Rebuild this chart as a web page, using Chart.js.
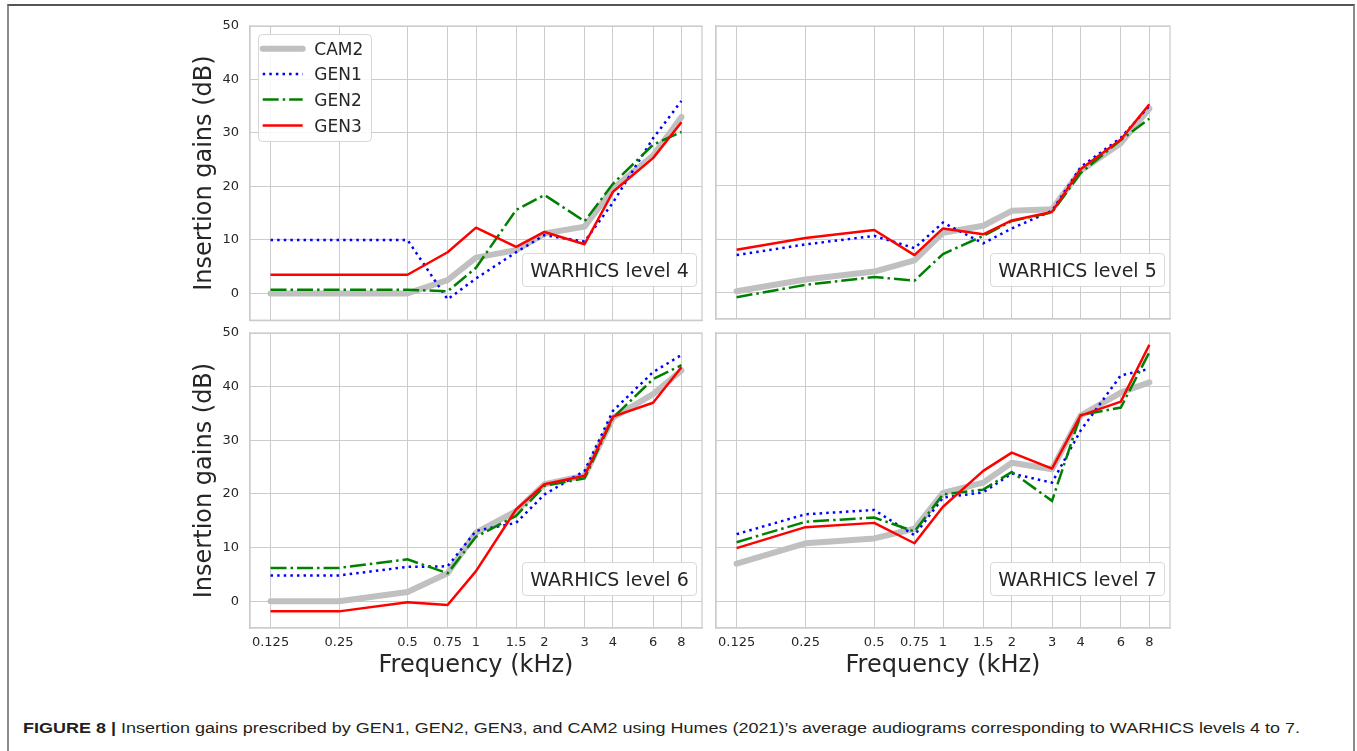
<!DOCTYPE html>
<html>
<head>
<meta charset="utf-8">
<script src="https://cdn.jsdelivr.net/npm/chart.js@4.4.1/dist/chart.umd.min.js"></script>
<style>
html, body { margin: 0; padding: 0; background: #fff; }
body { width: 1357px; height: 751px; position: relative; overflow: hidden; font-family: 'DejaVu Sans', sans-serif; }
.frame { position: absolute; left: 7px; top: 4px; width: 1344px; height: 800px; border-top: 2px solid #555; border-left: 2px solid #8c8c8c; border-right: 2px solid #8c8c8c; }
.panel { position: absolute; }
.tag { position: absolute; box-sizing: border-box; border: 1px solid #d9d9d9; border-radius: 4px; background: rgba(255,255,255,0.85); font-size: 19px; color: #262626; display: flex; align-items: center; justify-content: center; white-space: nowrap; }
.legend { position: absolute; left: 258px; top: 34px; }
.caption { position: absolute; left: 23px; top: 719px; font-family: 'Liberation Sans', Arial, sans-serif; font-size: 15.5px; color: #231f20; white-space: nowrap; transform-origin: left center; }
</style>
</head>
<body>
<div class="frame"></div>
<div class="caption" id="caption"><b>FIGURE 8 |</b> Insertion gains prescribed by GEN1, GEN2, GEN3, and CAM2 using Humes (2021)’s average audiograms corresponding to WARHICS levels 4 to 7.</div>
<script>
// frequencies (kHz) on the log x axis
const freqs = [0.125, 0.25, 0.5, 0.75, 1, 1.5, 2, 3, 4, 6, 8];
const freqLabels = ['0.125', '0.25', '0.5', '0.75', '1', '1.5', '2', '3', '4', '6', '8'];
const yTicks = [0, 10, 20, 30, 40, 50];
const seriesNames = ['CAM2', 'GEN1', 'GEN2', 'GEN3'];
const levelNames = ['WARHICS level 4', 'WARHICS level 5', 'WARHICS level 6', 'WARHICS level 7'];

// insertion gains (dB)
const cam2L4 = [0, 0, 0, 2.5, 6.7, 8.1, 11.2, 12.5, 19.6, 25.8, 33];
const gen1L4 = [10, 10, 10, -1.1, 2.8, 7.7, 10.9, 9.7, 17, 29, 36];
const gen2L4 = [0.7, 0.7, 0.7, 0.4, 4.8, 15.6, 18.4, 13.5, 20.5, 27.8, 30.2];
const gen3L4 = [3.5, 3.5, 3.5, 7.7, 12.3, 8.7, 11.5, 9.2, 19, 25.3, 32];

const cam2L5 = [0.2, 2.4, 3.9, 6, 11.2, 12.5, 15.3, 15.6, 22.8, 28, 34.5];
const gen1L5 = [7, 9, 10.6, 8.3, 13.1, 9.2, 12, 15.3, 23.5, 29, 35];
const gen2L5 = [-0.9, 1.4, 2.9, 2.2, 7.2, 10.6, 13.4, 15, 22.4, 28.6, 32.6];
const gen3L5 = [8, 10.2, 11.7, 7, 12, 10.9, 13.5, 15.1, 23.1, 28.7, 35.3];

const cam2L6 = [0, 0, 1.7, 5.2, 12.8, 16.8, 21.8, 23.4, 34.2, 38.6, 43];
const gen1L6 = [4.8, 4.8, 6.4, 6.5, 13.1, 14.6, 19.9, 24.3, 35.5, 42.7, 45.9];
const gen2L6 = [6.2, 6.2, 7.8, 5.2, 12, 15.9, 21.5, 22.9, 34.2, 41.4, 44];
const gen3L6 = [-1.9, -1.9, -0.2, -0.7, 5.6, 17.1, 21.8, 23.4, 34.4, 37, 43.6];

const cam2L7 = [7, 10.8, 11.7, 13.5, 20.2, 22.1, 25.8, 24.6, 34.6, 38.9, 40.8];
const gen1L7 = [12.5, 16.2, 17, 12.3, 19.3, 20.3, 23.8, 22.1, 31.8, 42.1, 43.3];
const gen2L7 = [11, 14.8, 15.6, 13, 19.9, 20.8, 24.1, 18.7, 34.7, 36.1, 46.4];
const gen3L7 = [9.9, 13.8, 14.6, 10.8, 17.6, 24.3, 27.7, 24.7, 34.6, 37.2, 47.8];

// line looks, same order as seriesNames
const styles = [
  { borderColor: '#c0c0c0', borderWidth: 6, borderCapStyle: 'round', borderJoinStyle: 'round', order: 4 },
  { borderColor: '#0000ff', borderWidth: 2.5, borderDash: [2.5, 4.1], order: 3 },
  { borderColor: '#008000', borderWidth: 2.5, borderDash: [16, 4, 2.5, 4], order: 2 },
  { borderColor: '#ff0000', borderWidth: 2.5, borderJoinStyle: 'round', order: 1 }
];

// matplotlib-like 5% margin on the log axis
const xMin = 0.125 / Math.pow(2, 0.3);
const xMax = 8 * Math.pow(2, 0.3);

Chart.defaults.font.family = "'DejaVu Sans', sans-serif";
Chart.defaults.color = '#262626';

const framePlugin = {
  id: 'frame',
  beforeDatasetsDraw(chart) {
    const a = chart.chartArea, ctx = chart.ctx;
    ctx.save();
    ctx.strokeStyle = '#cccccc';
    ctx.lineWidth = 1.25;
    ctx.strokeRect(a.left, a.top, a.right - a.left, a.bottom - a.top);
    ctx.restore();
  }
};

// where each plot box should land on the page
const panels = [
  { left: 190, top: 6, w: 522, h: 333, area: { l: 250, t: 26, r: 702, b: 319 }, showY: true, showX: false, values: [cam2L4, gen1L4, gen2L4, gen3L4], name: levelNames[0] },
  { left: 700, top: 6, w: 490, h: 333, area: { l: 716, t: 26, r: 1170, b: 319 }, showY: false, showX: false, values: [cam2L5, gen1L5, gen2L5, gen3L5], name: levelNames[1] },
  { left: 190, top: 313, w: 522, h: 380, area: { l: 250, t: 333, r: 702, b: 628 }, showY: true, showX: true, values: [cam2L6, gen1L6, gen2L6, gen3L6], name: levelNames[2] },
  { left: 700, top: 313, w: 490, h: 380, area: { l: 716, t: 333, r: 1170, b: 628 }, showY: false, showX: true, values: [cam2L7, gen1L7, gen2L7, gen3L7], name: levelNames[3] }
];

function makePanel(p) {
  const div = document.createElement('div');
  div.className = 'panel';
  div.style.left = p.left + 'px';
  div.style.top = p.top + 'px';
  div.style.width = p.w + 'px';
  div.style.height = p.h + 'px';
  const cv = document.createElement('canvas');
  div.appendChild(cv);
  document.body.appendChild(div);

  const pad = { left: p.showY ? 0 : 16, top: 20, right: 10, bottom: 10 };

  const chart = new Chart(cv, {
    type: 'line',
    data: {
      datasets: seriesNames.map((name, i) => Object.assign({
        label: name,
        data: freqs.map((f, j) => ({ x: f, y: p.values[i][j] })),
        pointRadius: 0,
        tension: 0,
        fill: false
      }, styles[i]))
    },
    options: {
      responsive: true,
      maintainAspectRatio: false,
      animation: false,
      layout: { padding: pad },
      plugins: { legend: { display: false }, tooltip: { enabled: false } },
      scales: {
        x: {
          type: 'logarithmic',
          min: xMin,
          max: xMax,
          afterBuildTicks: s => { s.ticks = freqs.map(v => ({ value: v })); },
          afterFit: s => { s.height = p.showX ? 52 : 0; },
          grid: { color: '#cccccc', lineWidth: 1, drawTicks: false },
          border: { color: '#cccccc', width: 1.25 },
          ticks: { display: p.showX, autoSkip: false, maxRotation: 0, minRotation: 0, padding: 7, font: { size: 13 }, color: '#262626',
                   callback: (v, i) => freqLabels[i] },
          title: { display: p.showX, text: 'Frequency (kHz)', font: { size: 24 }, color: '#262626', padding: { top: 0, bottom: 0 } }
        },
        y: {
          type: 'linear',
          min: -5,
          max: 50,
          afterBuildTicks: s => { s.ticks = yTicks.map(v => ({ value: v })); },
          afterFit: s => { s.width = p.showY ? 60 : 0; },
          grid: { color: '#cccccc', lineWidth: 1, drawTicks: false },
          border: { color: '#cccccc', width: 1.25 },
          ticks: { display: p.showY, padding: 11, font: { size: 13 }, color: '#262626' },
          title: { display: p.showY, text: 'Insertion gains (dB)', font: { size: 24 }, color: '#262626', padding: { top: 0, bottom: 0 } }
        }
      }
    },
    plugins: [framePlugin]
  });

  // nudge the padding until the plot box sits where the original has it
  for (let k = 0; k < 3; k++) {
    const a = chart.chartArea;
    pad.top += p.area.t - (p.top + a.top);
    pad.bottom += (p.top + a.bottom) - p.area.b;
    pad.left += p.area.l - (p.left + a.left);
    pad.right += (p.left + a.right) - p.area.r;
    chart.options.layout.padding = Object.assign({}, pad);
    chart.update('none');
  }

  // label box in the lower right corner of the plot
  const tag = document.createElement('div');
  tag.className = 'tag';
  tag.textContent = p.name;
  tag.style.width = '175px';
  tag.style.height = '34px';
  tag.style.left = (p.area.r - 5 - 175) + 'px';
  tag.style.top = (p.area.b - 32 - 34) + 'px';
  document.body.appendChild(tag);
}

panels.forEach(makePanel);

// legend (top-left panel only)
const NS = 'http://www.w3.org/2000/svg';
const leg = document.createElementNS(NS, 'svg');
leg.setAttribute('class', 'legend');
leg.setAttribute('width', '115');
leg.setAttribute('height', '109');
const box = document.createElementNS(NS, 'rect');
box.setAttribute('x', '0.5'); box.setAttribute('y', '0.5');
box.setAttribute('width', '113'); box.setAttribute('height', '107');
box.setAttribute('rx', '4');
box.setAttribute('fill', 'rgba(255,255,255,0.85)');
box.setAttribute('stroke', '#d6d6d6');
leg.appendChild(box);
const rowY = [14.7, 40, 65.5, 91.5];
seriesNames.forEach((name, i) => {
  const st = styles[i];
  const ln = document.createElementNS(NS, 'line');
  ln.setAttribute('x1', '4.7'); ln.setAttribute('x2', '44.7');
  ln.setAttribute('y1', rowY[i]); ln.setAttribute('y2', rowY[i]);
  ln.setAttribute('stroke', st.borderColor);
  ln.setAttribute('stroke-width', st.borderWidth);
  if (st.borderDash) ln.setAttribute('stroke-dasharray', st.borderDash.join(' '));
  if (st.borderCapStyle) ln.setAttribute('stroke-linecap', st.borderCapStyle);
  leg.appendChild(ln);
  const tx = document.createElementNS(NS, 'text');
  tx.setAttribute('x', '56.3'); tx.setAttribute('y', rowY[i]);
  tx.setAttribute('dominant-baseline', 'central');
  tx.setAttribute('font-family', 'DejaVu Sans');
  tx.setAttribute('font-size', '17');
  tx.setAttribute('fill', '#262626');
  tx.textContent = name;
  leg.appendChild(tx);
});
document.body.appendChild(leg);

// squeeze caption to the measured width of the original line
const cap = document.getElementById('caption');
const natural = cap.getBoundingClientRect().width;
cap.style.transform = 'scaleX(' + (1277 / natural) + ')';
</script>
</body>
</html>
